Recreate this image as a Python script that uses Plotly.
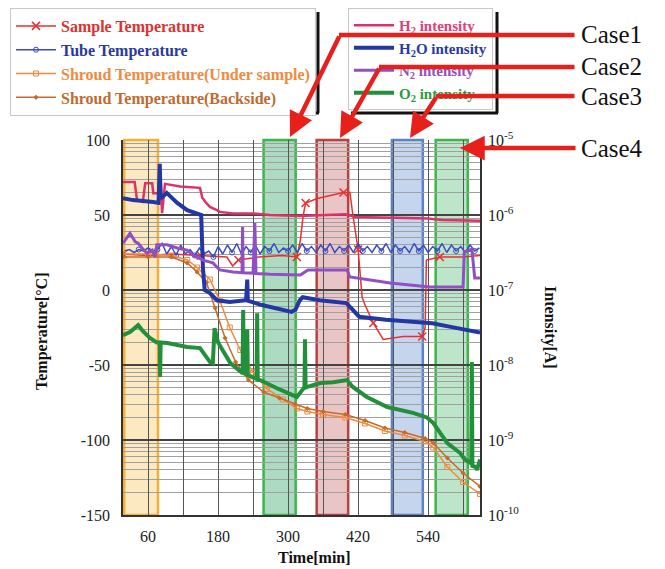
import plotly.graph_objects as go

# ---------------- data ----------------
# Temperatures [°C] vs time [min]
sample_t = [17, 60, 100, 150, 195, 205, 215, 250, 290, 315, 321, 326, 330, 350, 375, 395, 406, 410, 420, 427,
            432, 446, 463, 497, 530, 535, 537, 560, 600, 629]
sample_T = [24, 23, 24, 23, 22, 16, 20, 22, 23, 22, 33, 50, 58, 61, 63, 65, 65, 53, 27, -5,
            -10, -22, -33, -31, -31, -25, 20, 22, 22, 23]

tube_t = [20, 28, 36, 44, 52, 60, 68, 76, 84, 92,
          100, 108, 116, 124, 132, 140, 148, 156, 164, 172,
          180, 188, 196, 204, 212, 220, 228, 236, 244, 252,
          260, 268, 276, 284, 292, 300, 308, 316, 324, 332,
          340, 348, 356, 364, 372, 380, 388, 396, 404, 412,
          420, 428, 436, 444, 452, 460, 468, 476, 484, 492,
          500, 508, 516, 524, 532, 540, 548, 556, 564, 572,
          580, 588, 596, 604, 612, 620, 628]
tube_T = [26, 27, 25, 27, 26, 28, 26, 27, 31, 24,
          29, 23, 30, 24, 27, 23, 28, 24, 26, 22,
          29, 24, 30, 25, 31, 24, 29, 25, 30, 24,
          29, 26, 31, 25, 28, 26, 30, 25, 31, 26,
          29, 25, 30, 26, 31, 25, 29, 26, 30, 25,
          31, 26, 29, 25, 30, 26, 31, 25, 30, 26,
          29, 25, 31, 26, 30, 25, 29, 26, 31, 25,
          30, 26, 29, 25, 30, 26, 28]

shroud_u_t = [17, 60, 100, 127, 144, 166, 183, 200, 218, 240, 264, 291, 315, 333, 360, 398, 432, 466, 500, 535,
              549, 573, 600, 629]
shroud_u_T = [24, 24, 23, 20, 15, 7, -7, -25, -40, -55, -66, -73, -79, -81, -83, -85, -89, -94, -97, -101,
              -105, -118, -128, -136]

shroud_b_t = [17, 60, 100, 127, 144, 160, 175, 192, 210, 232, 258, 285, 312, 333, 360, 398, 432, 466, 500, 535,
              549, 573, 600, 629]
shroud_b_T = [22, 22, 22, 18, 12, 5, -12, -32, -48, -60, -68, -72, -76, -79, -81, -83, -87, -92, -95, -99,
              -102, -112, -122, -131]

# Intensities [A] vs time [min]
h2_t = [17, 37, 41, 51, 55, 67, 69, 79, 82, 84, 89, 115, 149, 153, 158, 166, 178, 183, 206, 240,
        269, 321, 398, 415, 483, 540, 564, 629]
h2_I = [2.75e-6, 2.75e-6, 1.6e-6, 1.5e-6, 2.65e-6, 2.65e-6, 1.95e-6, 1.95e-6, 2.6e-6, 1.06e-6,
        2.6e-6, 2.4e-6, 2.3e-6, 1.7e-6, 1.5e-6, 1.28e-6, 1.16e-6, 1.1e-6, 1.05e-6, 1.05e-6,
        1.0e-6, 9.7e-7, 1.02e-6, 9.4e-7, 9.2e-7, 9.0e-7, 8.6e-7, 8.4e-7]

h2o_t = [17, 34, 69, 78, 80, 81.5, 92, 110, 127, 144, 151, 154, 157, 166, 178, 200, 228, 230, 231, 255,
         279, 306, 313, 320, 325, 354, 400, 410, 422, 468, 525, 547, 581, 629]
h2o_I = [1.68e-6, 1.58e-6, 1.49e-6, 1.45e-6, 4.8e-6, 1.66e-6, 1.97e-6, 1.45e-6, 1.16e-6, 1.06e-6,
         1.0e-6, 2.0e-7, 1.0e-7, 9.1e-8, 7.3e-8, 6.9e-8, 7.3e-8, 1.38e-7, 7.2e-8, 6.3e-8,
         5.75e-8, 5.1e-8, 5.5e-8, 7.3e-8, 8.0e-8, 7.3e-8, 6.7e-8, 5.5e-8, 4.4e-8, 4.0e-8,
         3.75e-8, 3.6e-8, 3.2e-8, 2.7e-8]

n2_t = [17, 29, 38, 43, 50, 58, 67, 72, 75, 93, 111, 127, 137, 154, 171, 183, 206, 221, 222, 223,
        240, 243, 245, 270, 321, 326, 334, 401, 406, 475, 543, 600, 602, 615, 620, 629]
n2_I = [4.2e-7, 5.7e-7, 4.4e-7, 4.2e-7, 3.6e-7, 3.1e-7, 3.4e-7, 2.75e-7, 4.0e-7, 4.0e-7,
        3.6e-7, 3.4e-7, 2.9e-7, 2.5e-7, 2.3e-7, 1.85e-7, 1.74e-7, 1.7e-7, 6.9e-7, 1.7e-7,
        1.68e-7, 7.8e-7, 1.66e-7, 1.62e-7, 1.58e-7, 1.68e-7, 1.85e-7, 1.85e-7, 1.49e-7, 1.24e-7,
        1.1e-7, 1.1e-7, 3.2e-7, 3.5e-7, 1.45e-7, 1.45e-7]

o2_t = [17, 29, 43, 50, 63, 75, 80, 80.6, 81.5, 93, 127, 149, 154, 166, 171, 174, 180, 201, 222, 223,
        224, 229, 230, 231, 246, 247, 248, 252, 281, 309, 315, 324, 328, 329, 330, 333, 355, 377, 401, 411,
        435, 470, 514, 538, 549, 573, 595, 603, 612, 614, 615, 616, 621, 624, 629]
o2_I = [2.5e-8, 2.75e-8, 3.4e-8, 2.9e-8, 2.3e-8, 2.0e-8, 2.0e-8, 6.9e-9, 2.0e-8, 1.97e-8,
        1.74e-8, 1.68e-8, 1.49e-8, 1.1e-8, 1.06e-8, 3.1e-8, 2.0e-8, 1.06e-8, 7.8e-9, 5.4e-8,
        7.8e-9, 7.5e-9, 3.0e-8, 7.3e-9, 6.5e-9, 4.9e-8, 6.4e-9, 6.3e-9, 4.9e-9, 4.0e-9,
        3.75e-9, 4.6e-9, 5.0e-9, 2.2e-8, 5.0e-9, 5.1e-9, 5.75e-9, 5.9e-9, 6.3e-9, 5.1e-9,
        3.75e-9, 2.75e-9, 2.3e-9, 2.0e-9, 1.68e-9, 9.1e-10, 6.7e-10, 5.5e-10, 4.9e-10, 4.9e-10,
        1.1e-8, 4.5e-10, 4.4e-10, 4.0e-10, 5.5e-10]

# Shaded test periods [min]
region_start = [19, 258, 349, 478, 553]
region_end = [77, 313, 403, 531, 608]
region_fill = ["rgba(248,200,100,0.40)", "rgba(70,175,120,0.45)", "rgba(200,110,110,0.40)",
               "rgba(110,150,210,0.40)", "rgba(90,190,120,0.40)"]
region_line = ["#f2b038", "#3cb54a", "#b84242", "#5a84c4", "#3cb54a"]

case_labels = ["Case1", "Case2", "Case3", "Case4"]

x_tick_vals = [60, 120, 180, 240, 300, 360, 420, 480, 540, 600]
x_tick_text = ["60", "", "180", "", "300", "", "420", "", "540", ""]
y_tick_vals = [-150, -100, -50, 0, 50, 100]
y_tick_text = ["-150", "-100", "-50", "0", "50", "100"]
y2_tick_vals = [1e-10, 1e-9, 1e-8, 1e-7, 1e-6, 1e-5]
y2_tick_text = ["10<sup>-10</sup>", "10<sup>-9</sup>", "10<sup>-8</sup>", "10<sup>-7</sup>",
                "10<sup>-6</sup>", "10<sup>-5</sup>"]

# ---------------- figure ----------------
OFF = 8  # page body margin of the html page
W, H = 665, 569
# plot area on screen: x 123..480, y 140..515
ML, MT = 123 - OFF, 140 - OFF
PW, PH = 357, 375
MR, MB = W - ML - PW, H - MT - PH


def px(xp):
    return (xp - OFF - ML) / PW


def py(yp):
    return (MT + PH - (yp - OFF)) / PH


SERIF = "Liberation Serif"
fig = go.Figure()


def span(color, text, bold=True):
    t = f"<b>{text}</b>" if bold else text
    return f"<span style='color:{color}'>{t}</span>"


# intensities (right log axis)
fig.add_trace(go.Scatter(x=h2_t, y=h2_I, yaxis="y2", mode="lines", line=dict(color="#e0306a", width=2.5),
                         name=span("#e0407a", "H<sub>2</sub> intensity"), legend="legend2"))
fig.add_trace(go.Scatter(x=h2o_t, y=h2o_I, yaxis="y2", mode="lines", line=dict(color="#2236a6", width=4),
                         name=span("#2a3aa0", "H<sub>2</sub>O intensity"), legend="legend2"))
fig.add_trace(go.Scatter(x=n2_t, y=n2_I, yaxis="y2", mode="lines", line=dict(color="#9050c4", width=3),
                         name=span("#9050c0", "N<sub>2</sub> intensity"), legend="legend2"))
fig.add_trace(go.Scatter(x=o2_t, y=o2_I, yaxis="y2", mode="lines", line=dict(color="#22903a", width=4),
                         name=span("#2a9a40", "O<sub>2</sub> intensity"), legend="legend2"))

# temperatures (left axis)
fig.add_trace(go.Scatter(x=sample_t, y=sample_T, mode="lines+markers",
                         line=dict(color="#e83030", width=1.5),
                         marker=dict(symbol="x-thin-open", size=8, color="#e83030", line=dict(width=1.5, color="#e83030"),
                                     maxdisplayed=14),
                         name=span("#e03030", "Sample Temperature"), legend="legend"))
fig.add_trace(go.Scatter(x=tube_t, y=tube_T, mode="lines+markers",
                         line=dict(color="#3a4cc0", width=1.5),
                         marker=dict(symbol="circle-open", size=5, color="#3a4cc0", maxdisplayed=20),
                         name=span("#2a3a9a", "Tube Temperature"), legend="legend"))
fig.add_trace(go.Scatter(x=shroud_u_t, y=shroud_u_T, mode="lines+markers",
                         line=dict(color="#f08a3c", width=1.5),
                         marker=dict(symbol="square-open", size=5, color="#f08a3c"),
                         name=span("#f08a40", "Shroud Temperature(Under sample)"), legend="legend"))
fig.add_trace(go.Scatter(x=shroud_b_t, y=shroud_b_T, mode="lines+markers",
                         line=dict(color="#c86a2c", width=1.5),
                         marker=dict(symbol="diamond", size=4, color="#c86a2c"),
                         name=span("#c06a30", "Shroud Temperature(Backside)"), legend="legend"))

# shaded periods
shapes = []
for x0, x1, fc, lc in zip(region_start, region_end, region_fill, region_line):
    shapes.append(dict(type="rect", xref="x", yref="paper", x0=x0, x1=x1, y0=0, y1=1,
                       fillcolor=fc, line=dict(color=lc, width=2.5), layer="between"))

# legend box shadows (thick black right/bottom edges as in the original)
L1_R, L1_B = 318, 113
L2_L, L2_R, L2_B = 349, 497, 113
shapes.append(dict(type="line", xref="paper", yref="paper", x0=px(L1_R), x1=px(L1_R), y0=py(12), y1=py(L1_B),
                   line=dict(color="#111", width=3)))
shapes.append(dict(type="line", xref="paper", yref="paper", x0=px(12), x1=px(L1_R + 1), y0=py(L1_B), y1=py(L1_B),
                   line=dict(color="#111", width=3)))
shapes.append(dict(type="line", xref="paper", yref="paper", x0=px(L2_R), x1=px(L2_R), y0=py(12), y1=py(L2_B),
                   line=dict(color="#111", width=3)))
shapes.append(dict(type="line", xref="paper", yref="paper", x0=px(L2_L + 2), x1=px(L2_R + 1), y0=py(L2_B), y1=py(L2_B),
                   line=dict(color="#111", width=3)))

# red call-out arrows: horizontal part (headless arrow) + slanted part with head
RED = "#e8201c"
arrow_rows = [35, 67, 96, 148]          # label rows (px)
arrow_bend = [340, 380, 437, 577]       # where the horizontal part ends (px)
arrow_tip = [(290, 137), (340, 138), (410, 138), (460, 148)]
annotations = []
for i, lab in enumerate(case_labels):
    yr = arrow_rows[i]
    if arrow_bend[i] < 577:
        annotations.append(dict(xref="paper", yref="paper", x=px(arrow_bend[i] - 1), y=py(yr), text="",
                                showarrow=True, ax=577 - arrow_bend[i], ay=0, arrowcolor=RED, arrowwidth=4.5,
                                arrowhead=0, standoff=0, startstandoff=0))
    tx, ty = arrow_tip[i]
    annotations.append(dict(xref="paper", yref="paper", x=px(tx), y=py(ty), text="", showarrow=True,
                            ax=arrow_bend[i] - tx, ay=yr - ty, arrowcolor=RED, arrowwidth=4.5,
                            arrowhead=2, arrowsize=1.1, standoff=0, startstandoff=0))
    annotations.append(dict(xref="paper", yref="paper", x=px(579), y=py(yr), xanchor="left", yanchor="middle",
                            text=lab, showarrow=False, font=dict(family=SERIF, size=25, color="#111")))

# axis titles
annotations.append(dict(xref="paper", yref="paper", x=px(314), y=py(557), xanchor="center", yanchor="middle",
                        text="<b>Time[min]</b>", showarrow=False, font=dict(family=SERIF, size=16, color="#111")))
annotations.append(dict(xref="paper", yref="paper", x=px(42), y=py(332), xanchor="center", yanchor="middle",
                        text="<b>Temperature[°C]</b>", textangle=-90, showarrow=False,
                        font=dict(family=SERIF, size=16, color="#111")))
annotations.append(dict(xref="paper", yref="paper", x=px(550), y=py(327), xanchor="center", yanchor="middle",
                        text="<b>Intensity[A]</b>", textangle=90, showarrow=False,
                        font=dict(family=SERIF, size=16, color="#111")))

fig.update_layout(
    width=W, height=H,
    margin=dict(l=ML, r=MR, t=MT, b=MB, autoexpand=False),
    paper_bgcolor="white", plot_bgcolor="white",
    font=dict(family=SERIF, size=16, color="#222"),
    xaxis=dict(range=[17, 629], tickmode="array", tickvals=x_tick_vals, ticktext=x_tick_text,
               showgrid=True, gridcolor="#555", gridwidth=1.3, zeroline=False,
               showline=True, linecolor="#333", linewidth=1.5, ticks="", ticklabelstandoff=6),
    yaxis=dict(range=[-150, 100], tickmode="array", tickvals=y_tick_vals, ticktext=y_tick_text,
               showgrid=True, gridcolor="#444", gridwidth=1.5, zeroline=False,
               showline=True, linecolor="#333", linewidth=1.5, ticks="", ticklabelstandoff=8),
    yaxis2=dict(type="log", overlaying="y", side="right", range=[-10, -5],
                tickmode="array", tickvals=y2_tick_vals, ticktext=y2_tick_text,
                showgrid=False, zeroline=False, showline=True, linecolor="#333", linewidth=1.5,
                ticks="", ticklabelstandoff=3,
                minor=dict(dtick="D1", showgrid=True, gridcolor="#a0a0a0", gridwidth=1)),
    legend=dict(x=px(10), y=py(8), xanchor="left", yanchor="top", bgcolor="white",
                bordercolor="#c8c8c8", borderwidth=1, font=dict(family=SERIF, size=16),
                itemwidth=40, tracegroupgap=0),
    legend2=dict(x=px(348), y=py(8), xanchor="left", yanchor="top", bgcolor="white",
                 bordercolor="#c8c8c8", borderwidth=1, font=dict(family=SERIF, size=15),
                 itemwidth=40, tracegroupgap=0),
    shapes=shapes,
    annotations=annotations,
    showlegend=True,
)

fig.write_html("out.html")
